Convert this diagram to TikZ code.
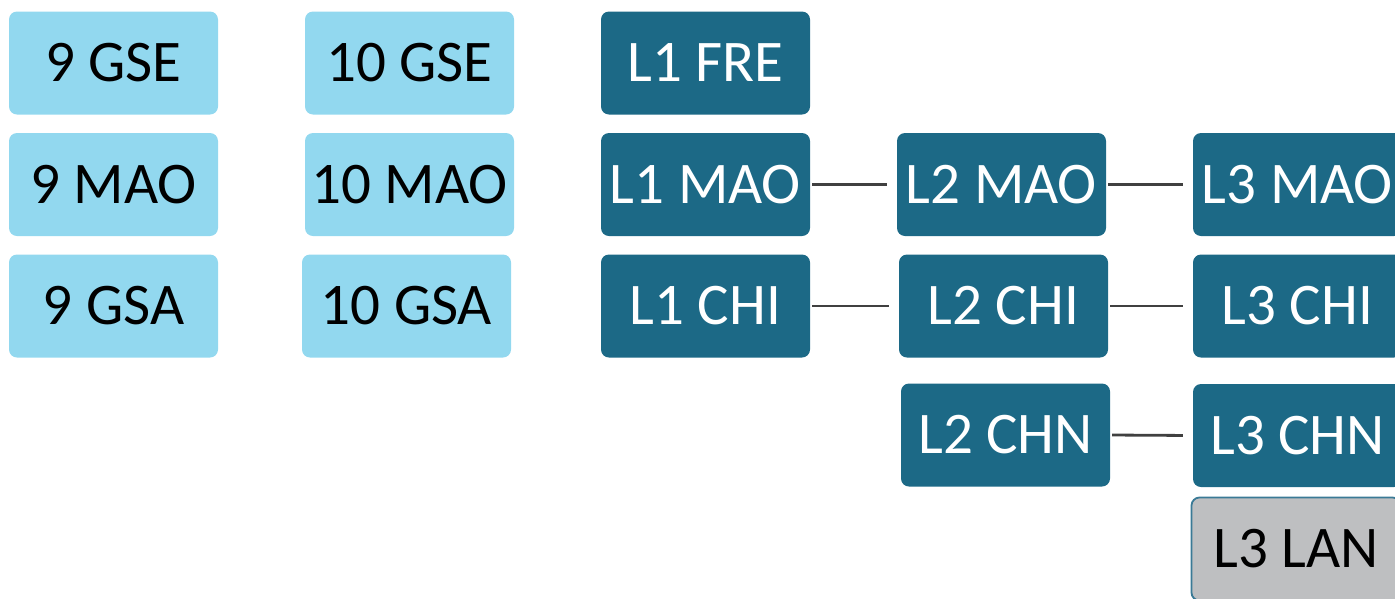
\documentclass[tikz,border=0pt]{standalone}
\usepackage{fontspec}
\setmainfont{Carlito}
\definecolor{lightb}{HTML}{92D8EF}
\definecolor{darkb}{HTML}{1C6986}
\definecolor{greyf}{HTML}{BEBFC1}
\definecolor{lanedge}{HTML}{3A7A96}
\definecolor{conn}{HTML}{404040}
\begin{document}
\begin{tikzpicture}[x=1pt,y=-1pt,
  box/.style={minimum width=209pt,minimum height=103pt,rounded corners=8pt,inner sep=0pt,
    font=\fontsize{59}{62}\selectfont},
  light/.style={box,fill=lightb,text=black},
  dark/.style={box,fill=darkb,text=white},
  grey/.style={box,fill=greyf,draw=lanedge,line width=1.8pt,text=black},
  link/.style={draw=conn,line width=2.8pt,shorten <=2pt,shorten >=10pt}]
\useasboundingbox (0,0) rectangle (1395,598);
\clip (0,0) rectangle (1395,598);
\node[light] (g9se) at (113.5,63) {9 GSE};
\node[light] (g9mao) at (113.5,184.5) {9 MAO};
\node[light] (g9gsa) at (113.5,306) {9 GSA};
\node[light] (g10se) at (409.5,63) {10 GSE};
\node[light] (g10mao) at (409.5,184.5) {10 MAO};
\node[light] (g10gsa) at (406.5,306) {10 GSA};
\node[dark] (l1fre) at (705.5,63) {L1 FRE};
\node[dark] (l1mao) at (705.5,184.5) {L1 MAO};
\node[dark] (l1chi) at (705.5,306) {L1 CHI};
\node[dark] (l2mao) at (1001.5,184.5) {L2 MAO};
\node[dark] (l2chi) at (1003.5,306) {L2 CHI};
\node[dark] (l2chn) at (1005.5,435) {L2 CHN};
\node[dark] (l3mao) at (1297.5,184.5) {L3 MAO};
\node[dark] (l3chi) at (1297.5,306) {L3 CHI};
\node[dark] (l3chn) at (1297.5,435.5) {L3 CHN};
\node[grey] (l3lan) at (1296,549) {L3 LAN};
\draw[link] (l1mao) -- (l2mao);
\draw[link] (l2mao) -- (l3mao);
\draw[link] (l1chi) -- (l2chi);
\draw[link] (l2chi) -- (l3chi);
\draw[link] (l2chn.east) -- (l3chn.west);
\end{tikzpicture}
\end{document}
